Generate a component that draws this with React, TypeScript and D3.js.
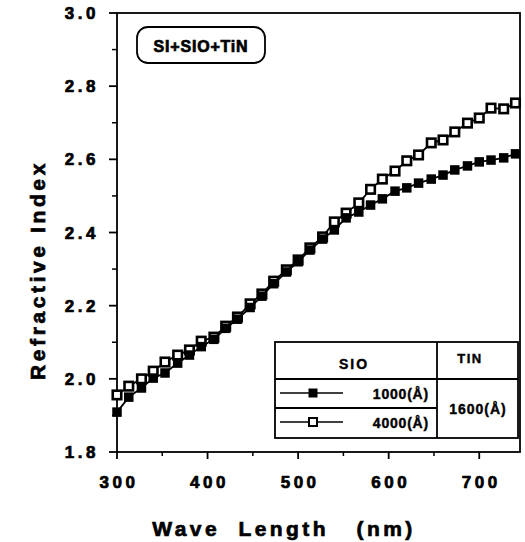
import React from "react";
import * as d3 from "d3";

const wavelengths = [300, 313, 327, 340, 353, 367, 380, 393, 407, 420, 433, 447, 460, 473, 487, 500, 513, 527, 540, 553, 567, 580, 593, 607, 620, 633, 647, 660, 673, 687, 700, 713, 727, 740];
const sio1000 = [1.909, 1.95, 1.975, 2.002, 2.016, 2.043, 2.065, 2.088, 2.108, 2.138, 2.163, 2.195, 2.226, 2.26, 2.292, 2.32, 2.352, 2.382, 2.407, 2.44, 2.456, 2.475, 2.492, 2.513, 2.522, 2.535, 2.546, 2.557, 2.571, 2.582, 2.593, 2.598, 2.604, 2.615];
const sio4000 = [1.956, 1.98, 2.0, 2.021, 2.046, 2.065, 2.079, 2.103, 2.114, 2.144, 2.169, 2.205, 2.232, 2.267, 2.298, 2.325, 2.358, 2.388, 2.429, 2.453, 2.481, 2.518, 2.546, 2.568, 2.596, 2.612, 2.645, 2.653, 2.675, 2.699, 2.713, 2.74, 2.738, 2.754];
const xTicks = [300, 400, 500, 600, 700];
const xMinor = [350, 450, 550, 650];
const yTicks = [1.8, 2.0, 2.2, 2.4, 2.6, 2.8, 3.0];
const yMinor = [1.9, 2.1, 2.3, 2.5, 2.7, 2.9];
const titleText = "SI+SIO+TiN";
const legendHeader = ["SIO", "TIN"];
const legendRows = ["1000(Å)", "4000(Å)"];
const tinLabel = "1600(Å)";

const W = 525, H = 542;
const L = 117, R = 520, T = 13, B = 452;

export default function App() {
  const x = d3.scaleLinear().domain([300, 745]).range([L, R]);
  const y = d3.scaleLinear().domain([1.8, 3.0]).range([B, T]);
  const line = d3.line<number>().x((_, i) => x(wavelengths[i])).y((d) => y(d));
  const font = "'Liberation Sans', Arial, sans-serif";
  const ms = 8.5;
  const heavy = { stroke: "#000", strokeWidth: 0.7 };

  const lgL = 275, lgR = 518, lgT = 342, lgB = 438, lgMid = 437, lgH1 = 379, lgH2 = 408;

  return (
    <svg width={W} height={H} style={{ position: "absolute", left: 0, top: 0, background: "#fff" }}>
      <rect x={0} y={0} width={W} height={H} fill="#fff" />
      <rect x={L} y={T} width={R - L} height={B - T} fill="none" stroke="#000" strokeWidth={1.8} />
      {yTicks.map((t) => (
        <g key={"y" + t}>
          <line x1={L - 8} x2={L} y1={y(t)} y2={y(t)} stroke="#000" strokeWidth={1.8} />
          <text x={99} y={y(t) + 6} textAnchor="end" fontFamily={font} fontWeight="bold" fontSize={17} letterSpacing={3.5} {...heavy}>
            {t.toFixed(1)}
          </text>
        </g>
      ))}
      {yMinor.map((t) => (
        <line key={"ym" + t} x1={L - 5} x2={L} y1={y(t)} y2={y(t)} stroke="#000" strokeWidth={1.5} />
      ))}
      {xTicks.map((t) => (
        <g key={"x" + t}>
          <line x1={x(t)} x2={x(t)} y1={B} y2={B + 7} stroke="#000" strokeWidth={1.8} />
          <text x={x(t) + 2} y={488} textAnchor="middle" fontFamily={font} fontWeight="bold" fontSize={17} letterSpacing={3.5} {...heavy}>
            {t}
          </text>
        </g>
      ))}
      {xMinor.map((t) => (
        <line key={"xm" + t} x1={x(t)} x2={x(t)} y1={B} y2={B + 4} stroke="#000" strokeWidth={1.5} />
      ))}
      <text x={284} y={536} textAnchor="middle" fontFamily={font} fontWeight="bold" fontSize={21} letterSpacing={3.4} xmlSpace="preserve" {...heavy}>
        {"Wave  Length   (nm)"}
      </text>
      <text transform="translate(45,270) rotate(-90)" textAnchor="middle" fontFamily={font} fontWeight="bold" fontSize={21} letterSpacing={3.6} {...heavy}>
        Refractive Index
      </text>
      <rect x={137} y={27} width={128} height={36} rx={11} ry={11} fill="#fff" stroke="#000" strokeWidth={1.8} />
      <text x={201} y={52} textAnchor="middle" fontFamily={font} fontWeight="bold" fontSize={16} letterSpacing={0.8} {...heavy}>
        {titleText}
      </text>
      <path d={line(sio1000) || ""} fill="none" stroke="#000" strokeWidth={1.8} />
      <path d={line(sio4000) || ""} fill="none" stroke="#000" strokeWidth={1.8} />
      {sio4000.map((v, i) => (
        <rect key={"o" + i} x={x(wavelengths[i]) - ms / 2} y={y(v) - ms / 2} width={ms} height={ms} fill="#fff" stroke="#000" strokeWidth={2.6} />
      ))}
      {sio1000.map((v, i) => (
        <rect key={"f" + i} x={x(wavelengths[i]) - ms / 2 - 0.5} y={y(v) - ms / 2 - 0.5} width={ms + 1} height={ms + 1} fill="#000" />
      ))}
      <rect x={lgL} y={lgT} width={lgR - lgL} height={lgB - lgT} fill="#fff" stroke="#000" strokeWidth={1.8} />
      <line x1={lgMid} x2={lgMid} y1={lgT} y2={lgB} stroke="#000" strokeWidth={1.8} />
      <line x1={lgL} x2={lgR} y1={lgH1} y2={lgH1} stroke="#000" strokeWidth={1.8} />
      <line x1={lgL} x2={lgMid} y1={lgH2} y2={lgH2} stroke="#000" strokeWidth={1.8} />
      <text x={354} y={369} textAnchor="middle" fontFamily={font} fontWeight="bold" fontSize={14} letterSpacing={2} {...heavy} strokeWidth={0.4}>
        {legendHeader[0]}
      </text>
      <text x={470} y={363} textAnchor="middle" fontFamily={font} fontWeight="bold" fontSize={13} letterSpacing={1.5} {...heavy} strokeWidth={0.4}>
        {legendHeader[1]}
      </text>
      <line x1={280} x2={343} y1={393} y2={393} stroke="#000" strokeWidth={1.4} />
      <rect x={313 - 4.5} y={393 - 4.5} width={9} height={9} fill="#000" />
      <text x={429} y={399} textAnchor="end" fontFamily={font} fontWeight="bold" fontSize={14} letterSpacing={0.8} {...heavy} strokeWidth={0.4}>
        {legendRows[0]}
      </text>
      <line x1={280} x2={343} y1={422} y2={422} stroke="#000" strokeWidth={1.4} />
      <rect x={313 - 4} y={422 - 4} width={8} height={8} fill="#fff" stroke="#000" strokeWidth={2} />
      <text x={429} y={428} textAnchor="end" fontFamily={font} fontWeight="bold" fontSize={14} letterSpacing={0.8} {...heavy} strokeWidth={0.4}>
        {legendRows[1]}
      </text>
      <text x={478} y={414} textAnchor="middle" fontFamily={font} fontWeight="bold" fontSize={14} letterSpacing={1} {...heavy} strokeWidth={0.4}>
        {tinLabel}
      </text>
    </svg>
  );
}
